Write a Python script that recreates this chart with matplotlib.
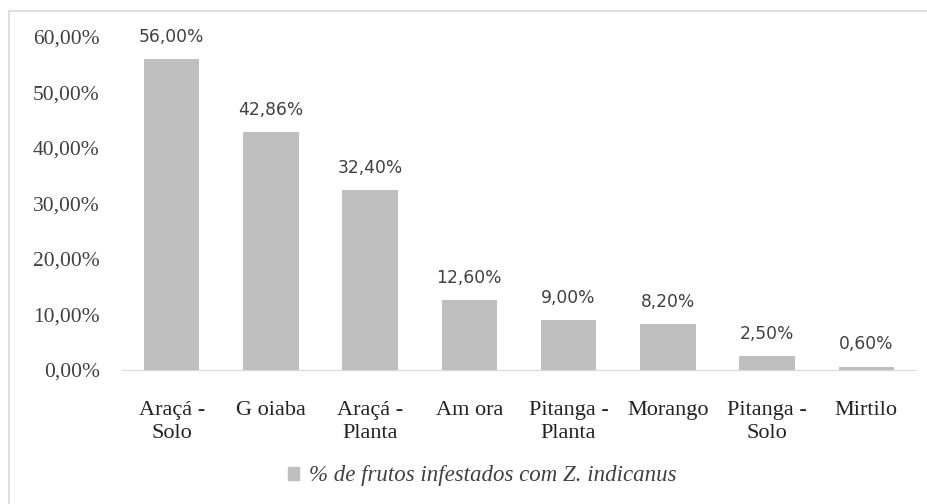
import matplotlib.pyplot as plt
from matplotlib.lines import Line2D
from matplotlib.patches import Patch

# ── data ─────────────────────────────────────────────
categories = ["Araçá -\nSolo", "G oiaba", "Araçá -\nPlanta", "Am ora",
              "Pitanga -\nPlanta", "Morango", "Pitanga -\nSolo", "Mirtilo"]
values = [56.00, 42.86, 32.40, 12.60, 9.00, 8.20, 2.50, 0.60]
yticks = [0, 10, 20, 30, 40, 50, 60]
legend_label = "% de frutos infestados com Z. indicanus"

BAR = "#BFBFBF"
TXT = "#404040"
SERIF = "Liberation Serif"

W, H = 928, 504
fig = plt.figure(figsize=(W / 100, H / 100), dpi=100)
fig.patch.set_facecolor("white")

# axes placed in pixel terms: x 122..916, y 37..370
ax = fig.add_axes([122 / W, 1 - 370 / H, (916 - 122) / W, (370 - 37) / H])
x = range(len(categories))
ax.bar(x, values, width=0.56, color=BAR, zorder=2)
ax.set_xlim(-0.5, len(categories) - 0.5)
ax.set_ylim(0, 60)

for xi, v in zip(x, values):
    ax.text(xi, v + 2.4, f"{v:.2f}%".replace(".", ","), ha="center",
            va="bottom", fontsize=12.3, color=TXT, family="DejaVu Sans")

ax.set_yticks(yticks)
ax.set_yticklabels([f"{t:.2f}%".replace(".", ",") for t in yticks],
                   family=SERIF, fontsize=15.5, color=TXT)
ax.set_xticks(list(x))
ax.set_xticklabels(categories, family=SERIF, fontsize=16, color="#222222",
                   linespacing=1.35)
ax.tick_params(axis="y", length=0, pad=16)
ax.tick_params(axis="x", length=0, pad=22)
for sp in ["top", "right", "left"]:
    ax.spines[sp].set_visible(False)
ax.spines["bottom"].set_color("#D9D9D9")

fig.legend(handles=[Patch(color=BAR, label=legend_label)],
           loc="center", bbox_to_anchor=(482 / W, 1 - 476 / H),
           frameon=False, handlelength=0.5, handleheight=0.5,
           handletextpad=0.4,
           prop={"family": SERIF, "style": "italic", "size": 16.5})
for t in fig.legends[0].get_texts():
    t.set_color(TXT)

# outer chart frame
fig.add_artist(Line2D([9 / W, 9 / W], [0, 1 - 11 / H], color="#D9D9D9", lw=1.2))
fig.add_artist(Line2D([9 / W, 1], [1 - 11 / H, 1 - 11 / H], color="#D9D9D9", lw=1.2))

fig.savefig("out.png", dpi=100, facecolor="white")
